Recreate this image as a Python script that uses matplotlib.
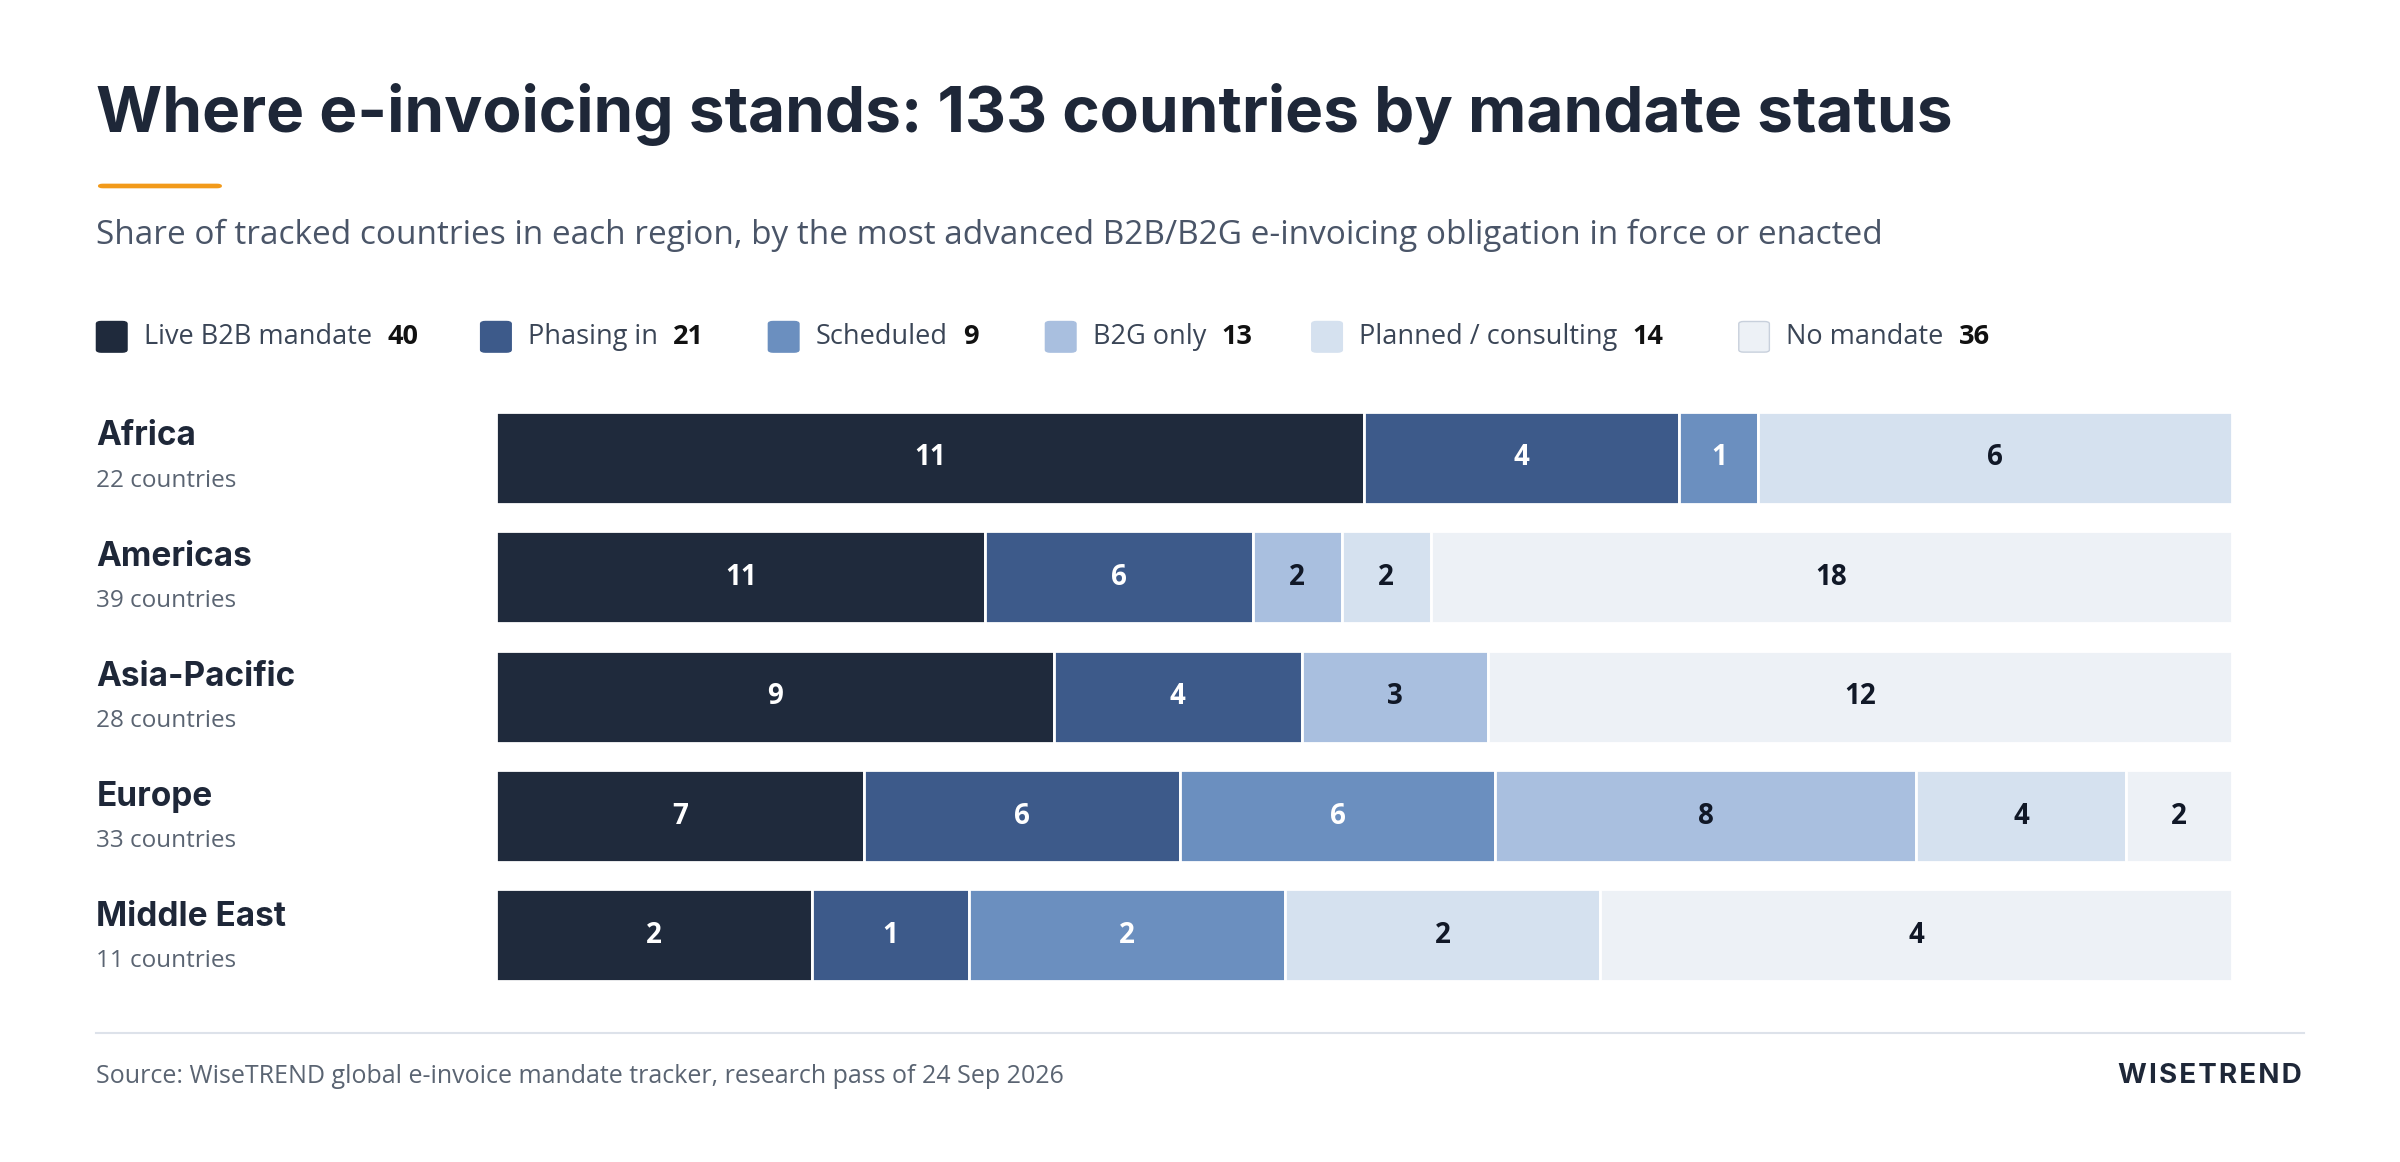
import matplotlib
matplotlib.use("Agg")
import matplotlib.pyplot as plt
from matplotlib.patches import FancyBboxPatch

regions = ["Africa", "Americas", "Asia-Pacific", "Europe", "Middle East"]
statuses = ["Live B2B mandate", "Phasing in", "Scheduled", "B2G only", "Planned / consulting", "No mandate"]
status_totals = [40, 21, 9, 13, 14, 36]
values = {
    "Africa":       [11, 4, 1, 0, 6, 0],
    "Americas":     [11, 6, 0, 2, 2, 18],
    "Asia-Pacific": [9, 4, 0, 3, 0, 12],
    "Europe":       [7, 6, 6, 8, 4, 2],
    "Middle East":  [2, 1, 2, 0, 2, 4],
}
colors = ["#1f2a3c", "#3d5a8a", "#6b8fbf", "#a9bfdf", "#d5e1ef", "#edf1f6"]
txtcol = ["white", "white", "white", "#111827", "#111827", "#111827"]

W, H = 1568, 759
fig = plt.figure(figsize=(24, 11.62), dpi=100)
plt.rcParams['font.family'] = ['Lato', 'DejaVu Sans']
def fx(x): return x / W
def fy(y): return 1 - y / H

fig.text(fx(63), fy(75), "Where e-invoicing stands: 133 countries by mandate status",
         fontsize=46, fontweight='bold', color="#1e2738", va='center', family=['Inter', 'DejaVu Sans'])
fig.add_artist(FancyBboxPatch((fx(64), fy(123)), fx(81), 0.004, boxstyle="round,pad=0,rounding_size=0.002",
                              transform=fig.transFigure, color="#f29a1a", lw=0))
fig.text(fx(63), fy(154), "Share of tracked countries in each region, by the most advanced B2B/B2G e-invoicing obligation in force or enacted",
         fontsize=24, color="#4a5568", va='center', family=['Open Sans', 'DejaVu Sans'])

# legend
lx = [63, 314, 502, 683, 857, 1136]
for i, s in enumerate(statuses):
    fig.add_artist(FancyBboxPatch((fx(lx[i]), fy(230)), fx(20), 20 / H, boxstyle="round,pad=0,rounding_size=0.002",
                                  transform=fig.transFigure, fc=colors[i], ec="#c8d0dc" if i == 5 else colors[i], lw=1))
    t = fig.text(fx(lx[i] + 31), fy(220), s, fontsize=19.5, color="#3a4556", va='center', family=['Open Sans', 'DejaVu Sans'])
    fig.canvas.draw()
    bb = t.get_window_extent()
    fig.text(bb.x1 / fig.bbox.width + fx(10), fy(220), str(status_totals[i]), fontsize=19.5,
             fontweight='bold', color="#111", va='center', family=['Open Sans', 'DejaVu Sans'])

ax = fig.add_axes([fx(324), fy(650), fx(1458 - 324), (650 - 260) / H])
ax.set_xlim(0, 1)
ax.set_ylim(len(regions) - 0.5, -0.5)
ax.axis('off')
for r, reg in enumerate(regions):
    vals = values[reg]
    tot = sum(vals)
    left = 0
    for i, v in enumerate(vals):
        if v == 0:
            continue
        w = v / tot
        ax.barh(r, w, left=left, height=0.77, color=colors[i], edgecolor='white', linewidth=2)
        ax.text(left + w / 2, r, str(v), ha='center', va='center', fontsize=20, fontweight='bold',
                color=txtcol[i], family=['Open Sans', 'DejaVu Sans'])
        left += w
    yc = 298 + r * 78.5
    fig.text(fx(63), fy(yc - 13), reg, fontsize=24, fontweight='bold', color="#1e2738", va='center',
             family=['Inter', 'DejaVu Sans'])
    fig.text(fx(63), fy(yc + 16), f"{tot} countries", fontsize=17.5, color="#5a6472", va='center',
             family=['Open Sans', 'DejaVu Sans'])

fig.add_artist(plt.Line2D([fx(63), fx(1505)], [fy(675), fy(675)], color="#dde2ea", lw=1.5))
fig.text(fx(63), fy(703), "Source: WiseTREND global e-invoice mandate tracker, research pass of 24 Sep 2026",
         fontsize=18, color="#5a6472", va='center', family=['Open Sans', 'DejaVu Sans'])
fig.text(fx(1504), fy(703), "W I S E T R E N D".replace(" ", "\u200a"), fontsize=20, fontweight='bold', color="#1e2738",
         va='center', ha='right', family=['Inter', 'DejaVu Sans'])
fig.savefig("out.png", dpi=100, facecolor='white')
